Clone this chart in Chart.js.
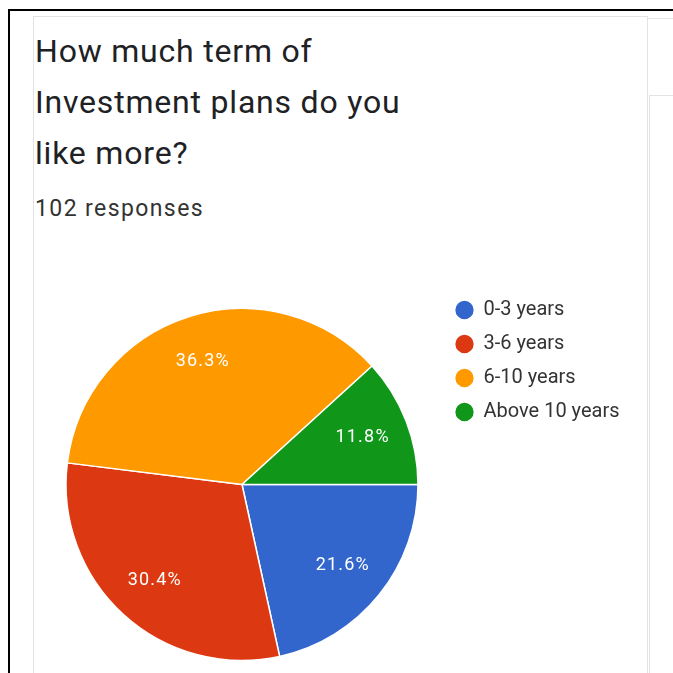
<!DOCTYPE html>
<html>
<head>
<meta charset="utf-8">
<script src="https://cdn.jsdelivr.net/npm/chart.js@4.4.1/dist/chart.umd.min.js"></script>
<style>
  html, body { margin: 0; padding: 0; background: #fff; overflow: hidden; }
  body { width: 673px; height: 673px; position: relative; font-family: Roboto, "Noto Sans", sans-serif; }
  .frame-top { position: absolute; left: 8px; top: 9px; width: 665px; height: 2px; background: #000; }
  .frame-left { position: absolute; left: 8px; top: 9px; width: 2px; height: 664px; background: #000; }
  .card { position: absolute; left: 33px; top: 16px; width: 613px; height: 700px; border: 1px solid #e3e3e3; background: #fff; }
  .side-top { position: absolute; left: 647px; top: 18px; width: 26px; height: 1px; background: #e6e6e6; }
  .side { position: absolute; left: 649px; top: 95px; width: 30px; height: 600px; border-left: 1px solid #e3e3e3; border-top: 1px solid #e3e3e3; }
  #title { position: absolute; left: 35px; top: 25.5px; font-size: 32px; line-height: 51px; letter-spacing: 0.8px; color: #202124; white-space: nowrap; }
  #count { position: absolute; left: 35px; top: 195.5px; font-size: 23px; line-height: 26px; letter-spacing: 1.4px; color: #333; white-space: nowrap; }
  #wrap { position: absolute; left: 33px; top: 270px; }
</style>
</head>
<body>
<div class="frame-top"></div>
<div class="frame-left"></div>
<div class="card"></div>
<div class="side-top"></div>
<div class="side"></div>
<div id="title">How much term of<br>Investment plans do you<br>like more?</div>
<div id="count"></div>
<div id="wrap"><canvas id="myChart" width="614" height="430"></canvas></div>
<script>
const labels = ["0-3 years", "3-6 years", "6-10 years", "Above 10 years"]
const responses = [22, 31, 37, 12]
const colors = ["#3366cc", "#dc3912", "#ff9900", "#109618"]

const total = responses.reduce((a, b) => a + b, 0)
document.getElementById("count").textContent = total + " responses"

// percent text inside each slice
const sliceLabels = {
   id: "sliceLabels",
   afterDatasetsDraw(chart) {
      const ctx = chart.ctx
      const meta = chart.getDatasetMeta(0)
      ctx.save()
      ctx.font = "18px Roboto"
      ctx.letterSpacing = "1.2px"
      ctx.fillStyle = "#ffffff"
      ctx.textAlign = "center"
      ctx.textBaseline = "middle"
      meta.data.forEach((arc, i) => {
         const p = arc.getProps(["x", "y", "startAngle", "endAngle", "outerRadius"], true)
         const mid = (p.startAngle + p.endAngle) / 2
         const r = p.outerRadius * 0.735
         const pct = (responses[i] / total * 100).toFixed(1) + "%"
         ctx.fillText(pct, p.x + Math.cos(mid) * r, p.y + Math.sin(mid) * r)
      })
      ctx.restore()
   }
}

const da = {
   labels: labels,
   datasets: [{
      data: responses,
      backgroundColor: colors,
      borderColor: "#ffffff",
      borderWidth: 1.5,
      hoverOffset: 0
   }]
}

const config = {
   type: "pie",
   data: da,
   options: {
      responsive: false,
      animation: false,
      rotation: 90,
      radius: 176,
      layout: { padding: { left: 9.5, top: 16, right: 21.5, bottom: 17 } },
      plugins: {
         tooltip: { enabled: false },
         legend: {
            position: "right",
            align: "start",
            maxWidth: 184,
            labels: {
               usePointStyle: true,
               pointStyle: "circle",
               boxWidth: 18,
               boxHeight: 14,
               padding: 14,
               color: "#333333",
               font: { family: "Roboto", size: 20 }
            }
         }
      }
   },
   plugins: [sliceLabels]
}

var myChart = new Chart(document.getElementById("myChart"), config)
</script>
</body>
</html>
